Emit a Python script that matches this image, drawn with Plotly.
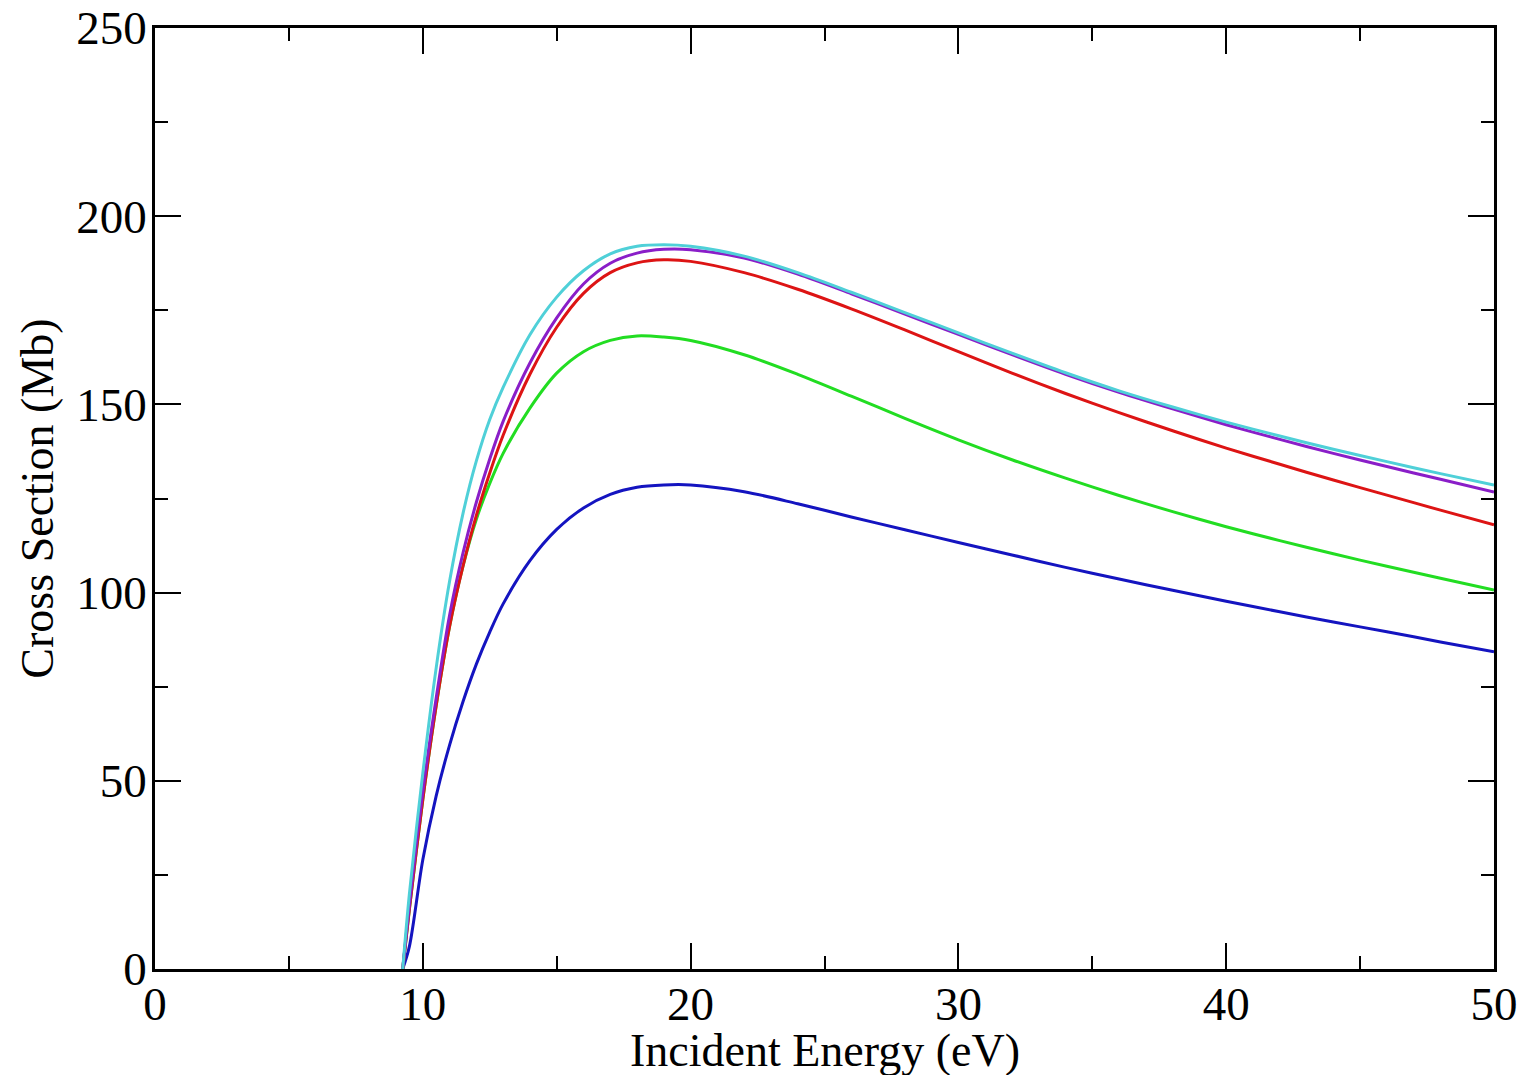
import plotly.graph_objects as go

energy = [9.25, 9.5, 10, 10.5, 11, 11.5, 12, 12.5, 13, 14, 15, 16, 17, 18, 19, 20,
          22, 24, 26, 28, 30, 32, 34, 36, 38, 40, 42, 44, 46, 48, 50]

blue = [0, 6, 29, 46, 59.5, 71, 81, 89.5, 97, 108.5, 116.8, 122.5, 126.1, 128, 128.6, 128.6,
        126.8, 123.6, 120.1, 116.7, 113.3, 110, 106.7, 103.6, 100.6, 97.7, 94.9, 92.2, 89.6, 86.9, 84.3]
green = [0, 16, 45, 70, 91, 107, 119.5, 129, 137, 149, 158.3, 164, 167, 168.2, 167.9, 167,
         163.2, 158, 152.2, 146.3, 140.6, 135.3, 130.4, 125.8, 121.5, 117.5, 113.8, 110.3, 107, 103.8, 100.7]
red = [0, 16, 45, 70, 91, 107, 120.5, 131.8, 141.8, 158, 170.5, 179.5, 185, 187.6, 188.4, 188,
       185, 180.6, 175.4, 169.8, 164, 158.3, 152.9, 147.8, 143, 138.4, 134.1, 129.9, 125.9, 121.9, 118]
purple = [0, 17, 47, 72, 94, 110.5, 124, 135.5, 145.5, 161, 173, 182, 187.5, 190.2, 191.2, 191.1,
          188.9, 184.6, 179.4, 174, 168.6, 163.2, 158, 153.2, 148.8, 144.6, 140.7, 137, 133.5, 130.1, 126.7]
cyan = [0, 20, 52, 80, 103, 121, 135, 146, 154.5, 168.5, 178.5, 185.5, 190, 192, 192.4, 192,
        189.4, 185, 179.8, 174.4, 169, 163.6, 158.4, 153.6, 149.3, 145.3, 141.6, 138.1, 134.8, 131.6, 128.6]

series = [
    ("blue", blue, "#1414c0"),
    ("green", green, "#22dd22"),
    ("red", red, "#dd1414"),
    ("purple", purple, "#8a1ec8"),
    ("cyan", cyan, "#4fd0d8"),
]

fig = go.Figure()
for name, ys, col in series:
    fig.add_trace(go.Scatter(x=energy, y=ys, mode="lines", name=name,
                             line=dict(color=col, width=3, shape="spline", smoothing=0.9),
                             showlegend=False))

font_family = "Liberation Serif"
axis_common = dict(
    showgrid=False, zeroline=False, showline=True, linecolor="black", linewidth=2.5,
    mirror="allticks", ticks="inside", ticklen=26, tickwidth=2, tickcolor="black",
    tickfont=dict(family=font_family, size=47, color="black"),
    automargin=False, ticklabeloverflow="allow",
)

fig.update_xaxes(range=[0, 50], dtick=10, tick0=0, ticklabelstandoff=-8,
                 minor=dict(dtick=5, ticks="inside", ticklen=13, tickwidth=2, tickcolor="black"),
                 **axis_common)
fig.update_yaxes(range=[0, 250], dtick=50, tick0=0, ticklabelstandoff=-4,
                 minor=dict(dtick=25, ticks="inside", ticklen=13, tickwidth=2, tickcolor="black"),
                 **axis_common)

fig.add_annotation(text="Incident Energy (eV)", xref="paper", yref="paper",
                   x=0.5, y=-0.087, xanchor="center", yanchor="middle", showarrow=False,
                   font=dict(family=font_family, size=46, color="black"))
fig.add_annotation(text="Cross Section (Mb)", xref="paper", yref="paper",
                   x=-0.088, y=0.5, xanchor="center", yanchor="middle", showarrow=False,
                   textangle=-90,
                   font=dict(family=font_family, size=46, color="black"))

fig.update_layout(
    width=1526, height=1075,
    margin=dict(l=155, r=32, t=28, b=106),
    paper_bgcolor="white", plot_bgcolor="white",
)

fig.write_html("out.html", config={"displayModeBar": False},
               post_script="document.body.style.margin='0';document.body.style.overflow='hidden';")
